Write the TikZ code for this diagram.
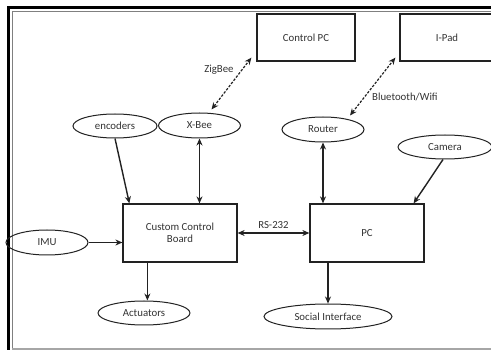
\documentclass[tikz,border=0pt]{standalone}
\usepackage{fontspec}
\setmainfont{Carlito}
\usetikzlibrary{shapes.geometric,arrows.meta,calc}
\definecolor{ink}{HTML}{222222}
\definecolor{txt}{HTML}{333333}
\tikzset{
  box/.style={draw=ink,line width=1.25pt,rectangle,inner sep=0pt,text=txt,font=\fontsize{10.8}{12.5}\selectfont,align=center},
  oval/.style={draw=ink,line width=1pt,ellipse,inner sep=0pt,text=txt,font=\fontsize{10.8}{12.5}\selectfont},
  lbl/.style={text=txt,font=\fontsize{10.8}{12.5}\selectfont,inner sep=0pt},
  conn/.style={draw=ink,line width=1.4pt,-{Stealth[length=7pt,width=6pt]}},
  bconn/.style={draw=ink,line width=1.4pt,{Stealth[length=7pt,width=6pt]}-{Stealth[length=7pt,width=6pt]}},
  wconn/.style={draw=ink,line width=1.2pt,dashed,dash pattern=on 2.5pt off 1.5pt,{Stealth[length=7pt,width=6pt]}-{Stealth[length=7pt,width=6pt]}}
}
\begin{document}
\begin{tikzpicture}[x=1pt,y=-1pt]
\clip (0,0) rectangle (491,350);
\fill[white] (0,0) rectangle (491,350);
% frame
\draw[black,line width=3pt] (8.5,352) -- (8.5,7.5) -- (495,7.5);
\draw[gray,line width=1pt] (12,352) -- (12,12) -- (495,12);
\draw[gray!70,line width=1.5pt] (12,349) -- (495,349);
% nodes
\node[box,minimum width=98,minimum height=47] (ctrlpc) at (306,37.5) {Control PC};
\node[box,minimum width=94,minimum height=47] (ipad) at (447,37.5) {I-Pad};
\node[oval,minimum width=84,minimum height=24] (enc) at (115,126) {encoders};
\node[oval,minimum width=82,minimum height=25] (xbee) at (199.5,125.5) {X-Bee};
\node[oval,minimum width=82,minimum height=25] (router) at (323,129.5) {Router};
\node[oval,minimum width=94,minimum height=24] (camera) at (445,147) {Camera};
\node[box,minimum width=114,minimum height=58] (ccb) at (180,233) {Custom Control\\Board};
\node[box,minimum width=114,minimum height=58] (pc) at (367,233) {PC};
\node[oval,minimum width=82,minimum height=25] (imu) at (47,242.5) {IMU};
\node[oval,minimum width=92,minimum height=24] (act) at (144,313) {Actuators};
\node[oval,minimum width=128,minimum height=25] (social) at (328,316.5) {Social Interface};
% connectors
\draw[conn] (enc.south) -- ([xshift=7]ccb.north west);
\draw[bconn] (xbee.south) -- (xbee.south |- ccb.north);
\draw[bconn] (router.south) -- (router.south |- pc.north);
\draw[conn] ([xshift=-2]camera.south) -- ([xshift=-11]pc.north east);
\draw[conn] (imu.east) -- (ccb.west |- imu.east);
\draw[bconn] (ccb.east) -- (pc.west) node[lbl,midway,above=4pt] {RS-232};
\draw[conn] ([xshift=25]ccb.south west) -- ([xshift=25]ccb.south west |- act.north);
\draw[conn] (social.north |- pc.south) -- (social.north);
\draw[wconn] ([shift={(12,-3)}]xbee.north) -- ([shift={(-5,-4)}]ctrlpc.south west);
\draw[wconn] ([shift={(27,-1)}]router.north) -- ([shift={(-4,-4)}]ipad.south west);
\node[lbl] (zig) at (219,70) {ZigBee};
\node[lbl,anchor=west] (bt) at (372,97) {Bluetooth/Wifi};
\end{tikzpicture}
\end{document}
